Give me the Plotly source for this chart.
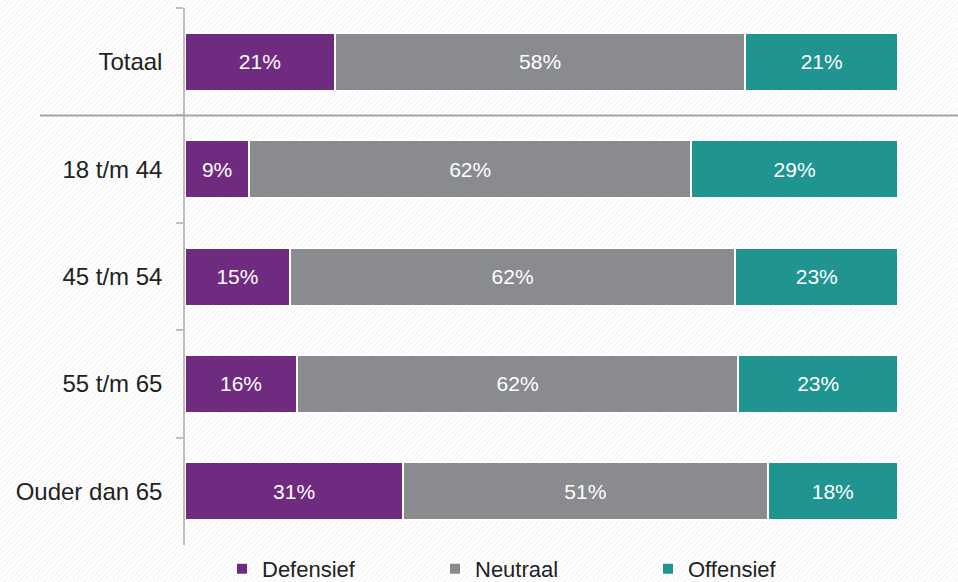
import base64
import plotly.graph_objects as go

categories = ["Totaal", "18 t/m 44", "45 t/m 54", "55 t/m 65", "Ouder dan 65"]
defensief = [21.0, 9.0, 14.7, 15.7, 30.6]
neutraal = [57.6, 62.0, 62.5, 61.9, 51.1]
offensief = [21.4, 29.0, 22.8, 22.4, 18.3]
def_labels = ["21%", "9%", "15%", "16%", "31%"]
neu_labels = ["58%", "62%", "62%", "62%", "51%"]
off_labels = ["21%", "29%", "23%", "23%", "18%"]

series = [
    ("Defensief", defensief, def_labels, "#6f2b80"),
    ("Neutraal", neutraal, neu_labels, "#8a8b8f"),
    ("Offensief", offensief, off_labels, "#1f9490"),
]

W, H = 958, 582
L, R, T, B = 185, 60, 8, 37
pw, ph = W - L - R, H - T - B

fig = go.Figure()
for name, vals, labels, color in series:
    fig.add_trace(go.Bar(
        y=categories, x=vals, name=name, orientation="h",
        marker=dict(color=color, line=dict(color="white", width=2)),
        text=labels, textposition="inside", insidetextanchor="middle",
        textfont=dict(color="white", size=21, family="Liberation Sans, Arial"),
        width=0.54, hoverinfo="skip",
    ))

# faint diagonal hatch background
lines = "".join(
    f'<line x1="{i}" y1="{H}" x2="{i + H}" y2="0" stroke="#efefef" stroke-width="1"/>'
    for i in range(-H, W + 5, 5)
)
svg = f'<svg xmlns="http://www.w3.org/2000/svg" width="{W}" height="{H}"><rect width="{W}" height="{H}" fill="white"/>{lines}</svg>'
src = "data:image/svg+xml;base64," + base64.b64encode(svg.encode()).decode()

fig.update_layout(
    width=W, height=H,
    margin=dict(l=L, r=R, t=T, b=B, autoexpand=False),
    barmode="stack",
    paper_bgcolor="white", plot_bgcolor="rgba(0,0,0,0)",
    font=dict(family="Liberation Sans, Arial", color="#222222"),
    images=[dict(source=src, xref="paper", yref="paper",
                 x=-L / pw, y=1 + T / ph, sizex=W / pw, sizey=H / ph,
                 xanchor="left", yanchor="top", sizing="stretch", layer="below")],
    xaxis=dict(range=[0, 100], visible=False, fixedrange=True),
    yaxis=dict(
        autorange=False, range=[4.5, -0.5], type="category",
        categoryorder="array", categoryarray=categories,
        showline=True, linecolor="#bfbfbf", linewidth=1.5,
        ticks="outside", tickson="boundaries", ticklen=7, tickcolor="#bfbfbf",
        tickwidth=1.5, showgrid=False, fixedrange=True,
        tickfont=dict(size=24, color="#222222"), ticklabelstandoff=16,
    ),
    showlegend=True,
    legend=dict(orientation="h", x=(222 - L) / pw, xanchor="left",
                yref="container", y=(H - 548) / H, yanchor="top",
                font=dict(size=22, color="#222222"),
                entrywidth=168, entrywidthmode="pixels",
                traceorder="normal", bgcolor="rgba(0,0,0,0)"),
    shapes=[dict(type="line", xref="paper", yref="y",
                 x0=(40 - L) / pw, x1=(W - L) / pw, y0=0.5, y1=0.5,
                 line=dict(color="#a6a6a6", width=2))],
)

fig.write_html(
    "out.html",
    config={"displayModeBar": False},
    post_script="document.body.style.margin='0';document.body.style.overflow='hidden';",
)
